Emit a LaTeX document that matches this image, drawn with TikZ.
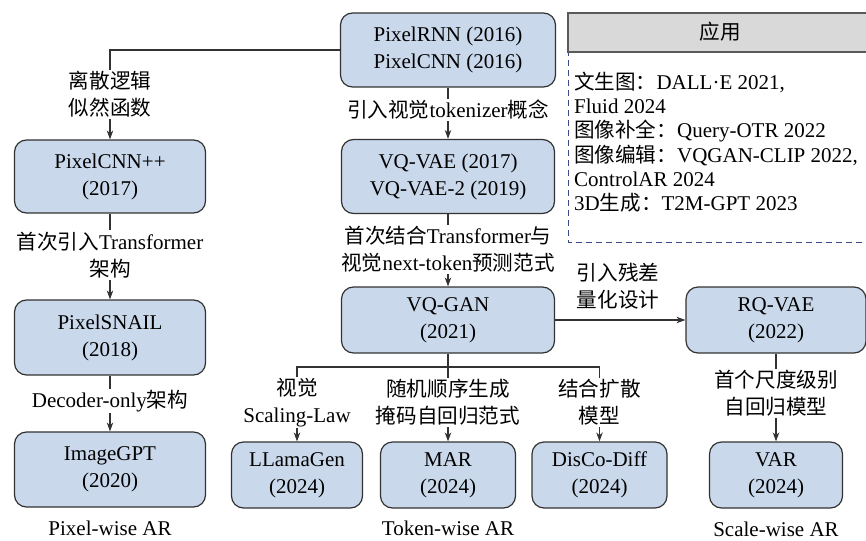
\documentclass[tikz,border=0pt]{standalone}
\usepackage{fontspec}
\setmainfont{Liberation Serif}
\newfontfamily\cjkfont{Noto Sans CJK SC}[Scale=0.98]
\usetikzlibrary{arrows.meta}

\newcommand\zh[1]{{\cjkfont #1}}
\newcommand\bodysize{\fontsize{21}{27}\selectfont}
\newcommand\appsize{\fontsize{21}{24}\selectfont}

\definecolor{boxfill}{RGB}{202,216,236}
\definecolor{linecol}{RGB}{50,50,50}
\definecolor{headfill}{RGB}{217,217,217}
\definecolor{headline}{RGB}{90,90,90}
\definecolor{dashcol}{RGB}{60,72,135}

\tikzset{
  model/.style={draw=linecol, fill=boxfill, rounded corners=12pt, line width=1.2pt,
    align=center, inner sep=0pt, font=\bodysize},
  lab/.style={fill=white, align=center, inner sep=1.5pt, font=\bodysize},
  plain/.style={align=center, inner sep=0pt, font=\bodysize},
  appline/.style={anchor=base west, inner sep=0pt, font=\appsize},
  link/.style={draw=linecol, line width=1.1pt},
  arr/.style={link, -{Stealth[length=9pt,width=6.5pt]}},
}

\begin{document}
\begin{tikzpicture}[x=1pt, y=-1pt]
\useasboundingbox (0,0) rectangle (866,540);

% applications panel
\draw[dashcol, line width=1pt, dash pattern=on 6pt off 4pt] (568,30) -- (568,242) -- (880,242);
\draw[headline, fill=headfill, line width=1.2pt] (568,13) rectangle (880,52);
\node[plain] (apptitle) at (720,32) {\zh{应用}};
\node[appline] (app1) at (574,89.5)  {\zh{文生图：}DALL·E 2021,};
\node[appline] (app2) at (574,113.7) {Fluid 2024};
\node[appline] (app3) at (574,137.9) {\zh{图像补全：}Query-OTR 2022};
\node[appline] (app4) at (574,162.1) {\zh{图像编辑：}VQGAN-CLIP 2022,};
\node[appline] (app5) at (574,186.3) {ControlAR 2024};
\node[appline] (app6) at (574,210.5) {3D\zh{生成：}T2M-GPT 2023};

% model boxes
\node[model, minimum width=215pt, minimum height=74pt] (rnn)   at (448,50)    {PixelRNN (2016)\\PixelCNN (2016)};
\node[model, minimum width=191pt, minimum height=73pt] (cnnpp) at (110,176.5)  {PixelCNN++\\(2017)};
\node[model, minimum width=191pt, minimum height=75pt] (snail) at (110,337.5)  {PixelSNAIL\\(2018)};
\node[model, minimum width=191pt, minimum height=75pt] (igpt)  at (110,469.5)  {ImageGPT\\(2020)};
\node[model, minimum width=213pt, minimum height=74pt] (vqvae) at (448,176.5)  {VQ-VAE (2017)\\VQ-VAE-2 (2019)};
\node[model, minimum width=213pt, minimum height=66pt] (vqgan) at (448,320)    {VQ-GAN\\(2021)};
\node[model, minimum width=180pt, minimum height=66pt] (rqvae) at (776,320)    {RQ-VAE\\(2022)};
\node[model, minimum width=131pt, minimum height=66pt] (llama) at (297,475)    {LLamaGen\\(2024)};
\node[model, minimum width=135pt, minimum height=66pt] (mar)   at (448,475)    {MAR\\(2024)};
\node[model, minimum width=135pt, minimum height=66pt] (disco) at (599.5,475)  {DisCo-Diff\\(2024)};
\node[model, minimum width=133pt, minimum height=66pt] (var)   at (776,475)    {VAR\\(2024)};

% connectors
\draw[arr] (rnn.west) -| (cnnpp.north);
\draw[arr] (rnn.south) -- (vqvae.north);
\draw[arr] (cnnpp.south) -- (snail.north);
\draw[arr] (snail.south) -- (igpt.north);
\draw[arr] (vqvae.south) -- (vqgan.north);
\draw[arr] (vqgan.east) -- (rqvae.west);
\draw[arr] (rqvae.south) -- (var.north);
\coordinate (fork) at (448,367);
\draw[link] (vqgan.south) -- (fork);
\draw[arr] (fork) -| (llama.north);
\draw[arr] (fork) -- (mar.north);
\draw[arr] (fork) -| (disco.north);

% connector labels
\node[lab] (l1) at (110,94.5)  {\zh{离散逻辑}\\\zh{似然函数}};
\node[lab] (l2) at (448,110)   {\zh{引入视觉}tokenizer\zh{概念}};
\node[lab] (l3) at (110,255)   {\zh{首次引入}Transformer\\\zh{架构}};
\node[lab] (l4) at (110,401)   {Decoder-only\zh{架构}};
\node[lab] (l5) at (448,249.5) {\zh{首次结合}Transformer\zh{与}\\\zh{视觉}next-token\zh{预测范式}};
\node[plain] (l6) at (618,286.5) {\zh{引入残差}\\\zh{量化设计}};
\node[lab] (l7) at (297,402.5) {\zh{视觉}\\Scaling-Law};
\node[lab] (l8) at (448,402.5) {\zh{随机顺序生成}\\\zh{掩码自回归范式}};
\node[lab] (l9) at (599.5,402.5) {\zh{结合扩散}\\\zh{模型}};
\node[lab] (l10) at (776,393.5) {\zh{首个尺度级别}\\\zh{自回归模型}};

% family captions
\node[plain] (c1) at (110,528) {Pixel-wise AR};
\node[plain] (c2) at (448,528) {Token-wise AR};
\node[plain] (c3) at (776,529) {Scale-wise AR};
\end{tikzpicture}
\end{document}
